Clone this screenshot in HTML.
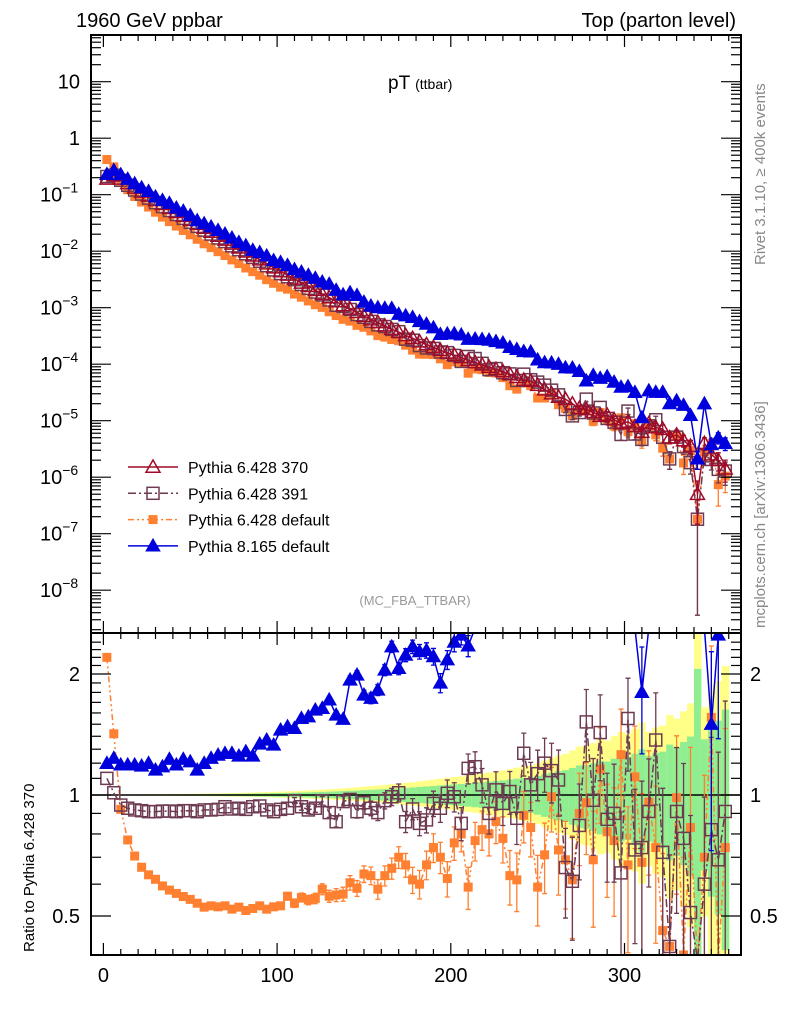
<!DOCTYPE html>
<html><head><meta charset="utf-8"><title>pT ttbar</title>
<style>
html,body{margin:0;padding:0;background:#fff;overflow:hidden;width:786px;height:1024px;}
svg{display:block;font-family:"Liberation Sans",Arial,sans-serif;}
</style></head>
<body>
<svg id="chart" width="786" height="1024" viewBox="0 0 786 1024" xmlns="http://www.w3.org/2000/svg">
<defs>
<clipPath id="cm"><rect x="91" y="35" width="650" height="598"/></clipPath>
<clipPath id="cr"><rect x="91" y="633" width="650" height="322"/></clipPath>
</defs>
<g id="bands" clip-path="url(#cr)"></g>
<g id="main" clip-path="url(#cm)"></g>
<g id="ratio" clip-path="url(#cr)"></g>
<g id="axes"></g>
<text x="76" y="27" font-size="20">1960 GeV ppbar</text>
<text x="736" y="27" font-size="20" text-anchor="end">Top (parton level)</text>
<text x="388" y="89" font-size="19">pT <tspan font-size="14">(ttbar)</tspan></text>
<text x="415" y="605" font-size="13" fill="#999" text-anchor="middle">(MC_FBA_TTBAR)</text>
<text transform="translate(765,265) rotate(-90)" font-size="15" fill="#888">Rivet 3.1.10, ≥ 400k events</text>
<text transform="translate(765,628) rotate(-90)" font-size="15" fill="#888">mcplots.cern.ch [arXiv:1306.3436]</text>
<text transform="translate(34,952) rotate(-90)" font-size="15">Ratio to Pythia 6.428 370</text>
<g id="legend"></g>
</svg>
<script>
// ---- data: bin centres 2,6,...,358 GeV (4 GeV bins) ----
const binStart = 2, binWidth = 4;
// reference Pythia 6.428 370 : log10(dsigma)
const refLog = [-0.72,-0.66,-0.72,-0.80,-0.88,-0.95,-1.02,-1.10,-1.17,-1.24,
-1.31,-1.38,-1.45,-1.52,-1.59,-1.66,-1.73,-1.80,-1.87,-1.94,
-2.01,-2.08,-2.15,-2.22,-2.29,-2.36,-2.42,-2.49,-2.56,-2.62,
-2.69,-2.76,-2.82,-2.89,-2.96,-3.02,-3.08,-3.15,-3.21,-3.26,
-3.32,-3.38,-3.43,-3.49,-3.54,-3.60,-3.65,-3.70,-3.75,-3.80,
-3.84,-3.88,-3.93,-3.97,-4.01,-4.05,-4.09,-4.13,-4.18,-4.23,
-4.28,-4.30,-4.37,-4.45,-4.52,-4.58,-4.62,-4.70,-4.78,-4.80,
-4.85,-4.92,-4.90,-4.98,-5.05,-5.02,-5.10,-5.20,-5.05,-5.12,
-5.15,-5.30,-5.25,-5.35,-5.45,-6.30,-5.40,-5.60,-5.70,-5.85];
// ratios to reference
const ratio391 = [1.10,1.013,0.944,0.927,0.918,0.914,0.909,0.909,0.912,0.912,
0.909,0.914,0.914,0.909,0.918,0.918,0.921,0.935,0.923,0.927,
0.921,0.935,0.939,0.918,0.909,0.921,0.927,0.968,0.935,0.918,
0.927,0.968,0.904,0.858,0.963,0.975,0.909,0.957,0.927,0.904,
0.968,0.990,1.013,0.858,0.923,0.850,
0.867,0.953,0.927,1.01,0.99,0.85,1.165,1.176,1.06,0.90,
1.03,0.953,1.02,0.875,1.27,1.06,1.13,1.20,1.15,1.09,
0.66,0.61,0.84,1.52,0.97,1.43,0.87,0.90,0.64,1.55,
0.73,0.74,0.91,1.37,0.72,0.42,0.91,0.78,0.51,0.36,
0.60,0.82,0.69,0.91];
const ratioDefault6 = [2.2,1.42,0.921,0.773,0.705,0.661,0.633,0.617,0.594,0.580,
0.569,0.559,0.550,0.538,0.526,0.530,0.527,0.530,0.520,0.526,
0.516,0.522,0.530,0.520,0.527,0.530,0.560,0.538,0.556,0.548,
0.553,0.583,0.560,0.564,0.567,0.605,0.586,0.636,0.630,0.583,
0.630,0.657,0.700,0.670,0.615,0.600,
0.67,0.74,0.70,0.62,0.76,0.80,0.59,0.77,0.82,0.80,
0.86,0.78,0.63,0.615,0.89,0.83,0.59,0.71,0.99,0.73,
0.69,0.615,0.90,0.957,0.69,1.16,0.81,0.77,1.26,0.67,
1.11,0.68,0.96,0.74,0.46,0.42,0.985,0.40,0.83,0.36,
0.70,1.56,0.37,0.74];
const ratio8 = [1.199,1.234,1.188,1.188,1.188,1.181,1.199,1.154,1.176,1.227,
1.188,1.227,1.210,1.154,1.199,1.234,1.257,1.269,1.269,1.250,
1.282,1.250,1.339,1.370,1.332,1.451,1.479,1.465,1.551,1.566,
1.627,1.643,1.724,1.581,1.543,1.933,1.989,1.773,1.740,1.825,
2.046,2.338,2.066,2.229,2.338,2.273,
2.29,2.21,1.90,2.17,
2.4,2.5,2.35,2.6,2.8,3.0,3.1,3.2,3.0,3.1,
3.2,3.3,2.8,3.0,3.5,3.8,3.6,4.3,4.5,3.2,
4.5,4.7,4.8,4.6,4.4,4.2,4.0,1.8,3.8,4.2,
4.5,4.0,4.0,4.2,3.5,4.2,5.0,1.5,2.5,2.8];
const yMajorExp = [1,0,-1,-2,-3,-4,-5,-6,-7,-8];
const ratioTicks = [0.5,1,2];
const xTicks = [0,100,200,300];
const legendNames = ["Pythia 6.428 370","Pythia 6.428 391","Pythia 6.428 default","Pythia 8.165 default"];

// ---- axis functions ----
const NS="http://www.w3.org/2000/svg";
function xPx(v){return 103.4+v*1.737;}
function yMain(v){return 81.7-(Math.log10(v)-1)*56.5;}
function yRat(r){return 795-121*Math.log2(r);}
function clamp(y,a,b){return Math.min(Math.max(y,a),b);}
function mk(tag,attrs,parent){const e=document.createElementNS(NS,tag);for(const k in attrs)e.setAttribute(k,attrs[k]);parent.appendChild(e);return e;}

const mainG=document.getElementById('main'), ratG=document.getElementById('ratio'), bandG=document.getElementById('bands'), axG=document.getElementById('axes'), legG=document.getElementById('legend');
const ref = refLog.map(l=>Math.pow(10,l));
const xs = ref.map((_,i)=>binStart+i*binWidth);
function relErr(v){return Math.min(0.001/Math.sqrt(v),3);}

// band
ref.forEach((v,i)=>{
  const e=relErr(v);
  const x0=xPx(xs[i]-binWidth/2), w=xPx(xs[i]+binWidth/2)-x0+0.5;
  const yt1=clamp(yRat(1+1.3*e),633,955), yb1=clamp(yRat(Math.max(1-e,0.05)),633,955);
  const y1=mk('rect',{x:x0,y:yt1,width:w,height:Math.max(0,yb1-yt1),fill:'#ffff88'},bandG);
  
  
  const yt2=clamp(yRat(1+0.75*e),633,955), yb2=clamp(yRat(Math.max(1-0.7*e,0.05)),633,955);
  const g1=mk('rect',{x:x0,y:yt2,width:w,height:Math.max(0,yb2-yt2),fill:'#90ee90'},bandG);
  
  
});
const one=mk('line',{x1:91,x2:741,y1:yRat(1),y2:yRat(1),stroke:'#000','stroke-width':1.5},ratG);



const series=[
 {name:'pythia-6428-370',ratio:null,color:'#a00a28',dash:'',marker:'otri',size:7},
 {name:'pythia-6428-391',ratio:ratio391,color:'#6e3a52',dash:'8,3,2,3',marker:'osq',size:6},
 {name:'pythia-6428-default',ratio:ratioDefault6,color:'#ff8030',dash:'6,3,2,3,2,3',marker:'fsq',size:4.5},
 {name:'pythia-8165-default',ratio:ratio8,color:'#0000dd',dash:'',marker:'ftri',size:6.5}
];
function marker(g,s,x,y){
  let el;
  if(s.marker==='otri'||s.marker==='ftri'){
    const r=s.size;
    el=mk('polygon',{points:`${x},${y-r} ${x-r},${y+r*0.75} ${x+r},${y+r*0.75}`,fill:s.marker==='ftri'?s.color:'#fff','fill-opacity':s.marker==='ftri'?1:0,stroke:s.color,'stroke-width':1.5},g);
  } else {
    const r=s.size;
    el=mk('rect',{x:x-r,y:y-r,width:2*r,height:2*r,fill:s.marker==='fsq'?s.color:'none',stroke:s.color,'stroke-width':s.marker==='fsq'?0:1.5},g);
  }
  return el;
}
function drawSeries(s,g,vals,yf,ymin,ymax,name,errScale){
  const grp=mk('g',{},g);
  
  
  let d='';
  vals.forEach((v,i)=>{const y=clamp(yf(v),ymin-5,ymax+5);d+=(i?'L':'M')+xPx(xs[i]).toFixed(1)+','+y.toFixed(1);});
  const p=mk('path',{d:d,fill:'none',stroke:s.color,'stroke-width':1.5,'stroke-dasharray':s.dash},grp);
  
  
  vals.forEach((v,i)=>{
    const e=relErr(s.absVals[i])*errScale;
    const x=xPx(xs[i]);
    const yc=yf(v);
    if(yc < ymin-10 || yc > ymax+10)return;
    const yt=clamp(yf(v*(1+e)),ymin,ymax), yb=clamp(yf(Math.max(v*(1-e),v*0.02)),ymin,ymax);
    if(Math.abs(yb-yt)>6){
      const eb=mk('path',{d:`M${x},${yt}L${x},${yb}M${x-2.5},${yt}L${x+2.5},${yt}M${x-2.5},${yb}L${x+2.5},${yb}`,stroke:s.color,'stroke-width':1.3,fill:'none'},grp);
      
      
    }
    const m=marker(grp,s,x,yc);
    
    
  });
}
series.forEach(s=>{
  const r=s.ratio||ref.map(()=>1);
  s.absVals=ref.map((v,i)=>v*r[i]);
});
[2,1,0,3].forEach(k=>{const s=series[k];drawSeries(s,mainG,s.absVals,yMain,35,633,s.name+'-main',0.5);});
[2,1,3].forEach(k=>{const s=series[k];drawSeries(s,ratG,s.ratio,yRat,633,955,s.name+'-ratio',1);});

// frames
mk('rect',{x:91,y:35,width:650,height:598,fill:'none',stroke:'#000','stroke-width':2},axG);
mk('rect',{x:91,y:633,width:650,height:322,fill:'none',stroke:'#000','stroke-width':2},axG);
// x ticks
for(let v=0;v<=360;v+=10){
  const x=xPx(v), L=(v%100===0)?12:6;
  mk('line',{x1:x,x2:x,y1:955,y2:955-L,stroke:'#000','stroke-width':1.2},axG);
  mk('line',{x1:x,x2:x,y1:633,y2:633+L,stroke:'#000','stroke-width':1.2},axG);
  mk('line',{x1:x,x2:x,y1:633,y2:633-L,stroke:'#000','stroke-width':1.2},axG);
  mk('line',{x1:x,x2:x,y1:35,y2:35+L,stroke:'#000','stroke-width':1.2},axG);
}
xTicks.forEach(v=>{
  const t=mk('text',{x:xPx(v),y:982,'font-size':20,'text-anchor':'middle'},axG);t.textContent=v;
  
  
});
// log y ticks main
for(let e=-9;e<=1;e++){
  for(let m=1;m<10;m++){
    const v=m*Math.pow(10,e), y=yMain(v);
    if(y < 35 || y > 633)continue;
    const L=m===1?20:10;
    mk('line',{x1:91,x2:91+L,y1:y,y2:y,stroke:'#000','stroke-width':1.2},axG);
    mk('line',{x1:741,x2:741-L,y1:y,y2:y,stroke:'#000','stroke-width':1.2},axG);
  }
}
yMajorExp.forEach(e=>{
  const y=yMain(Math.pow(10,e))+7;
  const t=mk('text',{x:80,y:y,'font-size':20,'text-anchor':'end'},axG);
  
  
  if(e===1)t.textContent='10';else if(e===0)t.textContent='1';
  else{t.textContent='10';const ts=mk('tspan',{'font-size':14,dy:-9},t);ts.textContent=String(e).replace('-','−');
    t.removeAttribute('text-anchor');t.setAttribute('x',40);}
});
// ratio ticks
for(let r=0.4;r <= 2.5;r+=0.1){
  const y=yRat(r); if(y < 633 || y > 955)continue;
  const major=ratioTicks.some(t=>Math.abs(t-r) < 1e-6);
  const L=major?20:10;
  mk('line',{x1:91,x2:91+L,y1:y,y2:y,stroke:'#000','stroke-width':1.2},axG);
  mk('line',{x1:741,x2:741-L,y1:y,y2:y,stroke:'#000','stroke-width':1.2},axG);
}
ratioTicks.forEach(r=>{
  const y=yRat(r)+7;
  const t=mk('text',{x:80,y:y,'font-size':20,'text-anchor':'end'},axG);t.textContent=r;
  
  
  const t2=mk('text',{x:750,y:y,'font-size':20},axG);t2.textContent=r;
  
  
});
// legend
legendNames.forEach((n,i)=>{
  const s=series[i], y=467+i*26.3;
  const g=mk('g',{},legG);
  
  
  mk('line',{x1:128,x2:178,y1:y,y2:y,stroke:s.color,'stroke-width':1.5,'stroke-dasharray':s.dash},g);
  marker(g,s,153,y);
  const t=mk('text',{x:188,y:y+6,'font-size':16},g);t.textContent=n;
});
</script>
</body></html>
